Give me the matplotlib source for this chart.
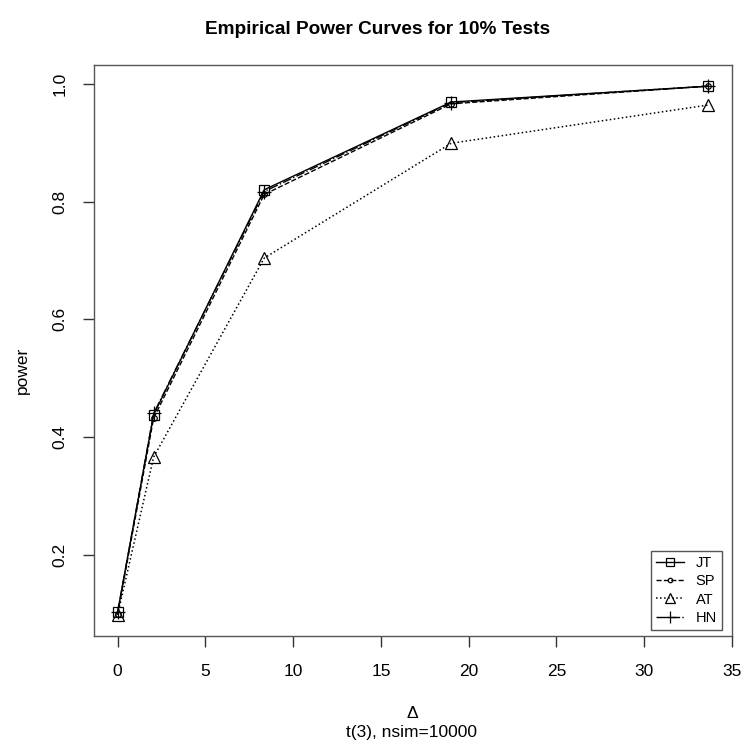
import numpy as np
import matplotlib
matplotlib.use('Agg')
import matplotlib.pyplot as plt

# data
delta = [0, 2.05, 8.35, 19.0, 33.65]
jt = [0.103, 0.438, 0.820, 0.969, 0.996]
sp = [0.100, 0.432, 0.812, 0.966, 0.996]
at = [0.098, 0.366, 0.704, 0.899, 0.964]
hn = [0.102, 0.440, 0.817, 0.968, 0.996]
names = ['JT', 'SP', 'AT', 'HN']

plt.rcParams['font.family'] = ['Liberation Sans', 'DejaVu Sans']

W, H = 744, 752
fig = plt.figure(figsize=(W/100, H/100), dpi=100)
ax = fig.add_axes([94/W, 1 - 636/H, (732 - 94)/W, (636 - 65)/H])

ax.plot(delta, jt, '-', color='black', lw=1, marker='s', ms=7, mfc='none', mew=0.9, label=names[0])
ax.plot(delta, sp, '--', color='black', lw=1, marker='o', ms=4, mfc='none', mew=0.9, label=names[1])
ax.plot(delta, at, ':', color='black', lw=1.1, marker='^', ms=9, mfc='none', mew=0.9, label=names[2])
ax.plot(delta, hn, '-.', color='black', lw=1, marker='+', ms=10, mew=0.9, label=names[3])

# R style axis range, 4% padding
allv = jt + sp + at + hn
xr = max(delta) - min(delta)
yr = max(allv) - min(allv)
ax.set_xlim(min(delta) - 0.04*xr, max(delta) + 0.04*xr)
ax.set_ylim(min(allv) - 0.04*yr, max(allv) + 0.04*yr)

ax.set_xticks([0, 5, 10, 15, 20, 25, 30, 35])
ax.set_yticks([0.2, 0.4, 0.6, 0.8, 1.0])
ax.set_yticklabels(['0.2', '0.4', '0.6', '0.8', '1.0'], rotation=90, va='center')
ax.tick_params(direction='out', length=8, width=1, labelsize=12.5, color='#333333')
ax.tick_params(axis='y', pad=11)
ax.tick_params(axis='x', pad=12)
for s in ax.spines.values():
    s.set_color('#555555')
    s.set_linewidth(1)

fig.text(22/W, 1 - 370/H, 'power', rotation=90, ha='center', va='center', fontsize=12.5)
fig.text(412/W, 1 - 714/H, '\u0394', ha='center', va='center', fontsize=12.5)
fig.text(412/W, 1 - 733/H, 't(3), nsim=10000', ha='center', va='center', fontsize=12.5)
fig.text(378/W, 1 - 30/H, 'Empirical Power Curves for 10% Tests', ha='center', va='center',
         fontsize=13.7, fontweight='bold')

leg = ax.legend(loc='lower right', bbox_to_anchor=(722/W, 1 - 630/H), bbox_transform=fig.transFigure,
                fontsize=10.5, handlelength=1.9, handletextpad=0.8, borderpad=0.35,
                labelspacing=0.3, fancybox=False, framealpha=1, borderaxespad=0, markerscale=0.8)
leg.get_frame().set_edgecolor('#555555')
leg.get_frame().set_linewidth(1)

fig.savefig('out.png', dpi=100)
